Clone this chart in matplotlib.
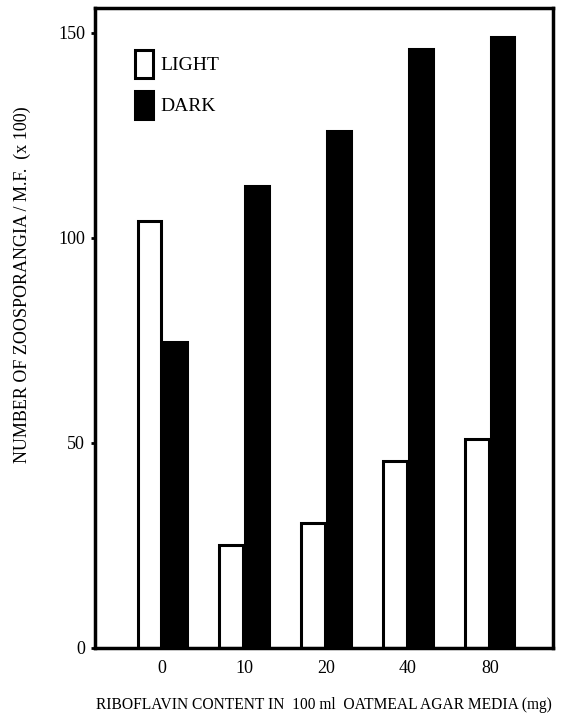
import numpy as np
import matplotlib.pyplot as plt

# data
doses = ["0", "10", "20", "40", "80"]
light = [104, 25, 30.5, 45.5, 51]
dark = [74.5, 112.5, 126, 146, 149]

plt.rcParams['font.family'] = ['Liberation Serif', 'DejaVu Serif']

fig = plt.figure(figsize=(5.79, 7.19), dpi=100)
ax = fig.add_axes([0.164, 0.099, 0.791, 0.89])

x = np.arange(len(doses))
w = 0.29
ax.bar(x - w / 2 - 0.01, light, w, color="white", edgecolor="black", linewidth=2.2, label="LIGHT")
ax.bar(x + w / 2 + 0.01, dark, w, color="black", edgecolor="black", linewidth=2.2, label="DARK")

ax.set_xlim(-0.82, 4.77)
ax.set_ylim(0, 156)
ax.set_yticks([0, 50, 100, 150])
ax.set_xticks(x)
ax.set_xticklabels(doses)
ax.tick_params(axis="y", direction="out", length=3, width=2, labelsize=13, pad=4)
ax.tick_params(axis="x", length=0, labelsize=13, pad=9)
for s in ax.spines.values():
    s.set_linewidth(2.5)

ax.set_ylabel("NUMBER OF ZOOSPORANGIA / M.F.  (x 100)", fontsize=13)
ax.yaxis.set_label_coords(-0.14, 0.567)
ax.set_xlabel("RIBOFLAVIN CONTENT IN  100 ml  OATMEAL AGAR MEDIA (mg)", fontsize=11.2, labelpad=14)

leg = ax.legend(loc="upper left", bbox_to_anchor=(0.05, 0.962), frameon=False,
                fontsize=14, handlelength=0.93, handleheight=1.85, labelspacing=0.65,
                handletextpad=0.36)

fig.savefig("out.png", dpi=100)
